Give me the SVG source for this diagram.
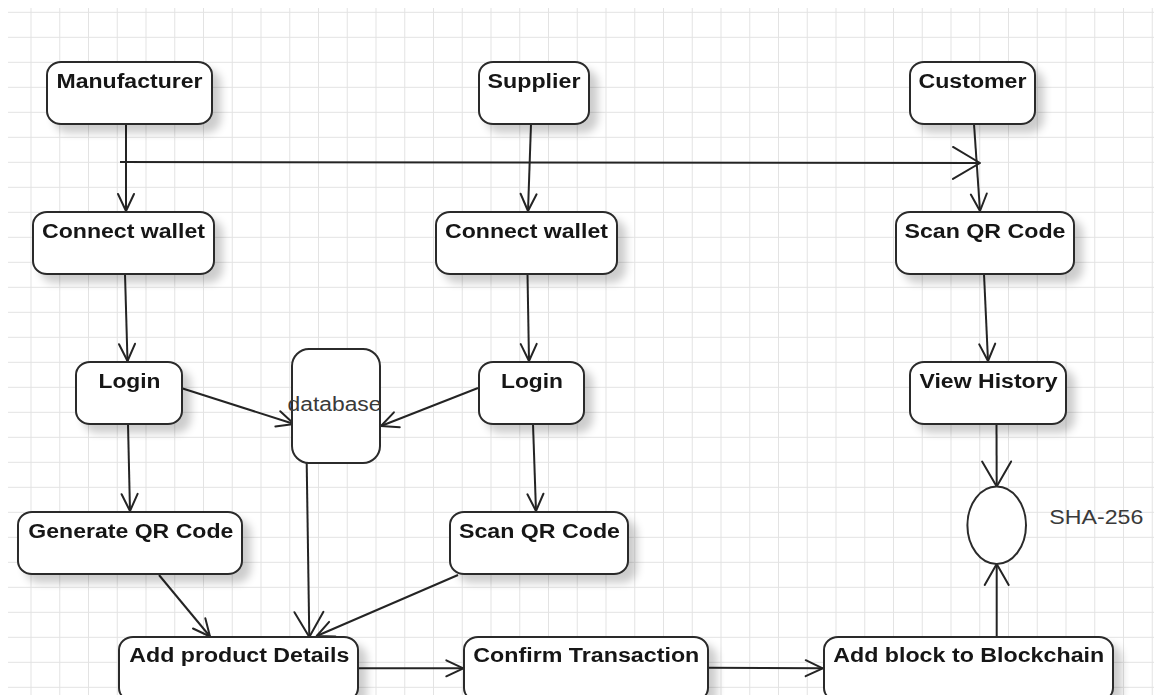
<svg xmlns="http://www.w3.org/2000/svg" width="1154" height="695" viewBox="0 0 1154 695">
  <style>
    .grid { stroke: #e3e3e3; stroke-width: 1; fill: none; }
    .box { fill: #ffffff; stroke: #2b2b2b; stroke-width: 2; }
    .plain { fill: #ffffff; stroke: #2b2b2b; stroke-width: 2; }
    .label { font-family: "Liberation Sans", Arial, sans-serif; font-size: 20px; font-weight: bold; fill: #151515; text-anchor: middle; }
    .note { font-family: "Liberation Sans", Arial, sans-serif; font-size: 20px; fill: #3a3a3a; }
    .edge { stroke: #242424; stroke-width: 2; fill: none; }
  </style>
  <defs>
    <filter id="shadow" x="-10%" y="-10%" width="130%" height="150%">
      <feGaussianBlur in="SourceAlpha" stdDeviation="4" result="b"/>
      <feOffset in="b" dx="8" dy="8" result="o"/>
      <feComponentTransfer in="o" result="s">
        <feFuncA type="linear" slope="0.2"/>
      </feComponentTransfer>
      <feMerge>
        <feMergeNode in="s"/>
        <feMergeNode in="SourceGraphic"/>
      </feMerge>
    </filter>
    <marker id="arr" viewBox="-20 -10 22 20" refX="0" refY="0" markerWidth="22" markerHeight="20" markerUnits="userSpaceOnUse" orient="auto" overflow="visible">
      <path d="M-17,-8 L0,0 L-17,8" fill="none" stroke="#242424" stroke-width="2" stroke-linejoin="round" stroke-linecap="round"/>
    </marker>
    <marker id="arrMid" viewBox="-24 -14 26 28" refX="0" refY="0" markerWidth="26" markerHeight="28" markerUnits="userSpaceOnUse" orient="auto" overflow="visible">
      <path d="M-21,-12 L0,0 L-21,12" fill="none" stroke="#242424" stroke-width="2" stroke-linejoin="round" stroke-linecap="round"/>
    </marker>
    <marker id="arrBig" viewBox="-28 -16 30 32" refX="0" refY="0" markerWidth="30" markerHeight="32" markerUnits="userSpaceOnUse" orient="auto" overflow="visible">
      <path d="M-25,-14.5 L0,0 L-25,14.5" fill="none" stroke="#242424" stroke-width="2" stroke-linejoin="round" stroke-linecap="round"/>
    </marker>
    <marker id="arrWide" viewBox="-30 -18 32 36" refX="0" refY="0" markerWidth="32" markerHeight="36" markerUnits="userSpaceOnUse" orient="auto" overflow="visible">
      <path d="M-27,-16 L0,0 L-27,16" fill="none" stroke="#242424" stroke-width="2" stroke-linejoin="round" stroke-linecap="round"/>
    </marker>
  </defs>

  <!-- canvas and background grid -->
  <rect x="0" y="0" width="1154" height="695" fill="#ffffff"/>
  <g id="grid">
    <path class="grid" d="M31,8V695M59.75,8V695M88.5,8V695M117.25,8V695M146,8V695M174.75,8V695M203.5,8V695M232.25,8V695M261,8V695M289.75,8V695M318.5,8V695M347.25,8V695M376,8V695M404.75,8V695M433.5,8V695M462.25,8V695M491,8V695M519.75,8V695M548.5,8V695M577.25,8V695M606,8V695M634.75,8V695M663.5,8V695M692.25,8V695M721,8V695M749.75,8V695M778.5,8V695M807.25,8V695M836,8V695M864.75,8V695M893.5,8V695M922.25,8V695M951,8V695M979.75,8V695M1008.5,8V695M1037.25,8V695M1066,8V695M1094.75,8V695M1123.5,8V695M1152.25,8V695"/>
    <path class="grid" d="M8,12.3H1154M8,37.3H1154M8,62.3H1154M8,87.3H1154M8,112.3H1154M8,137.3H1154M8,162.3H1154M8,187.3H1154M8,212.3H1154M8,237.3H1154M8,262.3H1154M8,287.3H1154M8,312.3H1154M8,337.3H1154M8,362.3H1154M8,387.3H1154M8,412.3H1154M8,437.3H1154M8,462.3H1154M8,487.3H1154M8,512.3H1154M8,537.3H1154M8,562.3H1154M8,587.3H1154M8,612.3H1154M8,637.3H1154M8,662.3H1154M8,687.3H1154"/>
  </g>

  <!-- connectors -->
  <g id="connectors">
    <line class="edge" x1="126" y1="124" x2="126" y2="211" marker-end="url(#arr)"/>
    <line class="edge" x1="120" y1="162" x2="980" y2="163" marker-end="url(#arrWide)"/>
    <line class="edge" x1="974" y1="124" x2="980" y2="211" marker-end="url(#arr)"/>
    <line class="edge" x1="531" y1="124" x2="528" y2="211" marker-end="url(#arr)"/>
    <line class="edge" x1="125" y1="274" x2="127.5" y2="361" marker-end="url(#arr)"/>
    <line class="edge" x1="527.5" y1="274" x2="529" y2="361" marker-end="url(#arr)"/>
    <line class="edge" x1="984" y1="274" x2="988" y2="361" marker-end="url(#arr)"/>
    <line class="edge" x1="178" y1="387" x2="294" y2="424" marker-end="url(#arr)"/>
    <line class="edge" x1="478" y1="388" x2="381" y2="426" marker-end="url(#arr)"/>
    <line class="edge" x1="128" y1="424" x2="130" y2="511" marker-end="url(#arr)"/>
    <line class="edge" x1="533" y1="424" x2="536" y2="511" marker-end="url(#arr)"/>
    <line class="edge" x1="996.5" y1="424" x2="996.7" y2="486.5" marker-end="url(#arrBig)"/>
    <line class="edge" x1="996.7" y1="637" x2="996.7" y2="564" marker-end="url(#arrMid)"/>
    <line class="edge" x1="159" y1="575" x2="210" y2="636.5" marker-end="url(#arr)"/>
    <line class="edge" x1="306.7" y1="463" x2="309.3" y2="637" marker-end="url(#arrBig)"/>
    <line class="edge" x1="458" y1="575" x2="316.7" y2="636" marker-end="url(#arr)"/>
    <line class="edge" x1="359" y1="668.3" x2="463.3" y2="668.3" marker-end="url(#arr)"/>
    <line class="edge" x1="708.3" y1="667.7" x2="822.7" y2="668.3" marker-end="url(#arr)"/>
  </g>

  <!-- nodes -->
  <g id="manufacturer" filter="url(#shadow)">
    <rect class="box" x="47" y="62" width="165" height="62" rx="14" ry="13"/>
    <text class="label" x="129.5" y="88" textLength="146" lengthAdjust="spacingAndGlyphs">Manufacturer</text>
  </g>
  <g id="supplier" filter="url(#shadow)">
    <rect class="box" x="479" y="62" width="110" height="62" rx="14" ry="13"/>
    <text class="label" x="534" y="88" textLength="93" lengthAdjust="spacingAndGlyphs">Supplier</text>
  </g>
  <g id="customer" filter="url(#shadow)">
    <rect class="box" x="910" y="62" width="125" height="62" rx="14" ry="13"/>
    <text class="label" x="972.5" y="88" textLength="108" lengthAdjust="spacingAndGlyphs">Customer</text>
  </g>
  <g id="connect-wallet-manufacturer" filter="url(#shadow)">
    <rect class="box" x="33" y="212" width="181" height="62" rx="14" ry="13"/>
    <text class="label" x="123.5" y="238" textLength="163" lengthAdjust="spacingAndGlyphs">Connect wallet</text>
  </g>
  <g id="connect-wallet-supplier" filter="url(#shadow)">
    <rect class="box" x="436" y="212" width="181" height="62" rx="14" ry="13"/>
    <text class="label" x="526.5" y="238" textLength="163" lengthAdjust="spacingAndGlyphs">Connect wallet</text>
  </g>
  <g id="scan-qr-customer" filter="url(#shadow)">
    <rect class="box" x="896" y="212" width="178" height="62" rx="14" ry="13"/>
    <text class="label" x="985" y="238" textLength="161" lengthAdjust="spacingAndGlyphs">Scan QR Code</text>
  </g>
  <g id="login-manufacturer" filter="url(#shadow)">
    <rect class="box" x="76" y="362" width="106" height="62" rx="14" ry="13"/>
    <text class="label" x="129.5" y="388" textLength="62" lengthAdjust="spacingAndGlyphs">Login</text>
  </g>
  <g id="database">
    <rect class="plain" x="292" y="349" width="88" height="114" rx="17" ry="17"/>
    <text class="note" x="334.5" y="411" text-anchor="middle" textLength="94" lengthAdjust="spacingAndGlyphs">database</text>
  </g>
  <g id="login-supplier" filter="url(#shadow)">
    <rect class="box" x="479" y="362" width="105" height="62" rx="14" ry="13"/>
    <text class="label" x="532" y="388" textLength="62" lengthAdjust="spacingAndGlyphs">Login</text>
  </g>
  <g id="view-history" filter="url(#shadow)">
    <rect class="box" x="910" y="362" width="156" height="62" rx="14" ry="13"/>
    <text class="label" x="988.5" y="388" textLength="138" lengthAdjust="spacingAndGlyphs">View History</text>
  </g>
  <g id="generate-qr" filter="url(#shadow)">
    <rect class="box" x="18" y="512" width="224" height="62" rx="14" ry="13"/>
    <text class="label" x="130.8" y="538" textLength="205" lengthAdjust="spacingAndGlyphs">Generate QR Code</text>
  </g>
  <g id="scan-qr-supplier" filter="url(#shadow)">
    <rect class="box" x="450" y="512" width="178" height="62" rx="14" ry="13"/>
    <text class="label" x="539.5" y="538" textLength="161" lengthAdjust="spacingAndGlyphs">Scan QR Code</text>
  </g>
  <g id="sha256">
    <ellipse class="plain" cx="996.7" cy="525.3" rx="29.3" ry="38.7"/>
    <text class="note" x="1049.3" y="524" textLength="94" lengthAdjust="spacingAndGlyphs">SHA-256</text>
  </g>
  <g id="add-product-details" filter="url(#shadow)">
    <rect class="box" x="119" y="637" width="239" height="64" rx="14" ry="13"/>
    <text class="label" x="239.3" y="662" textLength="220" lengthAdjust="spacingAndGlyphs">Add product Details</text>
  </g>
  <g id="confirm-transaction" filter="url(#shadow)">
    <rect class="box" x="464" y="637" width="244" height="64" rx="14" ry="13"/>
    <text class="label" x="586.3" y="662" textLength="226" lengthAdjust="spacingAndGlyphs">Confirm Transaction</text>
  </g>
  <g id="add-block" filter="url(#shadow)">
    <rect class="box" x="824" y="637" width="289" height="64" rx="14" ry="13"/>
    <text class="label" x="968.7" y="662" textLength="271" lengthAdjust="spacingAndGlyphs">Add block to Blockchain</text>
  </g>
</svg>
